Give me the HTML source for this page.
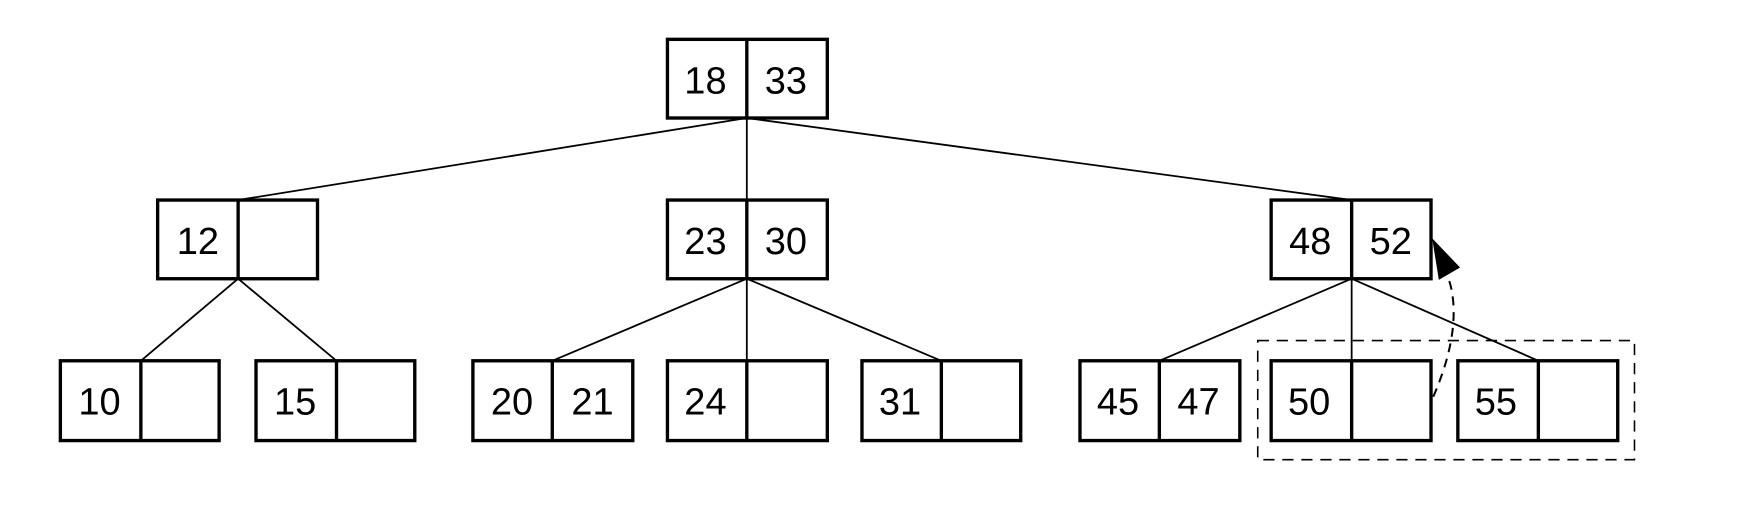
<!DOCTYPE html>
<html><head><meta charset="utf-8"><style>html,body{margin:0;padding:0;background:#fff}svg{display:block}</style></head>
<body>
<svg width="1753" height="517" viewBox="0 0 1568 460" preserveAspectRatio="none" xmlns="http://www.w3.org/2000/svg" font-family="Liberation Sans, sans-serif" font-size="34" text-anchor="middle">
<rect width="1568" height="460" fill="#fff"/>
<g stroke="#000" stroke-width="1.6" fill="none">
<line x1="668" y1="105" x2="213" y2="178"/>
<line x1="668" y1="105" x2="668" y2="178"/>
<line x1="668" y1="105" x2="1209" y2="178"/>
<line x1="213" y1="248" x2="126" y2="321"/>
<line x1="213" y1="248" x2="301" y2="321"/>
<line x1="668" y1="248" x2="494" y2="321"/>
<line x1="668" y1="248" x2="668" y2="321"/>
<line x1="668" y1="248" x2="842" y2="321"/>
<line x1="1209" y1="248" x2="1037" y2="321"/>
<line x1="1209" y1="248" x2="1209" y2="321"/>
<line x1="1209" y1="248" x2="1376" y2="321"/>
<rect x="1125" y="303" width="337" height="106" stroke-dasharray="10,7" stroke-width="1.4"/>
<path d="M1282,353 C1292,330 1302,300 1300,270 C1299,258 1297,250 1293,242" stroke-dasharray="8,6" stroke-width="1.8"/>
</g>
<polygon points="1281,212 1306,238 1287,249" fill="#000"/>
<g stroke="#000" stroke-width="3" fill="#fff">
<rect x="597" y="35" width="143" height="70"/><line x1="668" y1="35" x2="668" y2="105"/>
<rect x="141" y="178" width="143" height="70"/><line x1="213" y1="178" x2="213" y2="248"/>
<rect x="597" y="178" width="143" height="70"/><line x1="668" y1="178" x2="668" y2="248"/>
<rect x="1137" y="178" width="143" height="70"/><line x1="1209" y1="178" x2="1209" y2="248"/>
<rect x="54" y="321" width="142" height="71"/><line x1="126" y1="321" x2="126" y2="392"/>
<rect x="229" y="321" width="142" height="71"/><line x1="301" y1="321" x2="301" y2="392"/>
<rect x="423" y="321" width="143" height="71"/><line x1="494" y1="321" x2="494" y2="392"/>
<rect x="597" y="321" width="143" height="71"/><line x1="668" y1="321" x2="668" y2="392"/>
<rect x="771" y="321" width="142" height="71"/><line x1="842" y1="321" x2="842" y2="392"/>
<rect x="966" y="321" width="143" height="71"/><line x1="1037" y1="321" x2="1037" y2="392"/>
<rect x="1137" y="321" width="143" height="71"/><line x1="1209" y1="321" x2="1209" y2="392"/>
<rect x="1304" y="321" width="143" height="71"/><line x1="1376" y1="321" x2="1376" y2="392"/>
</g>
<g fill="#000">
<text x="631" y="83">18</text><text x="703" y="83">33</text>
<text x="177" y="226">12</text>
<text x="631" y="226">23</text><text x="703" y="226">30</text>
<text x="1172" y="226">48</text><text x="1244" y="226">52</text>
<text x="89" y="369">10</text>
<text x="264" y="369">15</text>
<text x="458" y="369">20</text><text x="530" y="369">21</text>
<text x="631" y="369">24</text>
<text x="805" y="369">31</text>
<text x="1000" y="369">45</text><text x="1072" y="369">47</text>
<text x="1171" y="369">50</text>
<text x="1338" y="369">55</text>
</g>
</svg>
</body></html>
